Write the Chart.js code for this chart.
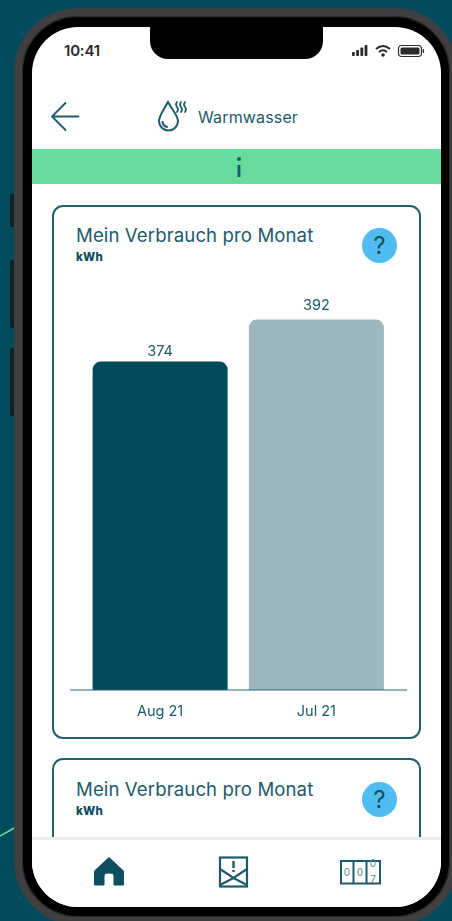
<!DOCTYPE html>
<html lang="de">
<head>
<meta charset="utf-8">
<title>Warmwasser</title>
<script src="https://cdn.jsdelivr.net/npm/chart.js@4"></script>
<style>
  html, body { margin: 0; padding: 0; width: 452px; height: 921px; overflow: hidden; background: #004c5c; font-family: Inter, Roboto, sans-serif; }
  .abs { position: absolute; }
  #streak { left: 0; top: 0; }
  .side { position: absolute; left: 10px; width: 4px; background: #0d2229; border-radius: 2px 0 0 2px; }
  #frame { left: 14px; top: 8px; width: 444px; height: 917px; border-radius: 64px; box-sizing: border-box; border: 8px solid #3f3f41; background: #000; box-shadow: inset 0 0 0 1px #2a2a2b; }
  #screen { left: 32px; top: 27px; width: 409px; height: 880px; border-radius: 46px; background: #fff; overflow: hidden; }
  #notch { left: 150px; top: 27px; width: 173px; height: 32px; background: #000; border-radius: 0 0 18px 18px; }
  #clock { left: 64px; top: 42px; font-size: 15px; font-weight: 600; color: #2b2b2b; line-height: 18px; letter-spacing: -.2px; }
  #pagetitle { left: 198px; top: 107px; font-size: 16px; color: #1d5a6b; line-height: 20px; letter-spacing: .15px; }
  #banner { left: 32px; top: 149px; width: 409px; height: 35px; background: #66dd9f; }
  .card { position: absolute; left: 52px; width: 369px; box-sizing: border-box; border: 2px solid #23606f; border-radius: 11px; background: #fff; }
  .cardtitle { position: absolute; left: 76px; font-size: 18.6px; color: #1d5a6b; line-height: 22px; letter-spacing: .1px; white-space: nowrap; }
  .unit { position: absolute; left: 76px; font-size: 11.5px; font-weight: 800; color: #0b4b5b; line-height: 14px; letter-spacing: .3px; }
  .help { position: absolute; left: 362px; width: 35px; height: 35px; border-radius: 50%; background: #4fbdf2; color: #17505f; font-size: 24px; line-height: 35px; text-align: center; }
  #chartbox { left: 60px; top: 280px; width: 360px; height: 450px; }
  #nav { left: 32px; top: 837px; width: 409px; height: 70px; background: #fff; border-top: 3px solid #e8eff1; box-sizing: border-box; border-radius: 0 0 46px 46px; }
</style>
</head>
<body>
<svg id="streak" class="abs" width="20" height="921"><line x1="0" y1="836" x2="16" y2="827" stroke="#66dd9f" stroke-width="1.5"/></svg>
<div class="side" style="top:194px;height:33px"></div>
<div class="side" style="top:260px;height:68px"></div>
<div class="side" style="top:348px;height:68px"></div>
<div id="frame" class="abs"></div>
<div id="screen" class="abs"></div>
<div id="notch" class="abs"></div>

<div id="clock" class="abs">10:41</div>
<svg class="abs" style="left:350px;top:42px" width="78" height="18" fill="#2b2b2b">
  <rect x="2" y="10" width="2.8" height="4" rx=".8"/><rect x="6.2" y="8" width="2.8" height="6" rx=".8"/><rect x="10.4" y="5.5" width="2.8" height="8.5" rx=".8"/><rect x="14.6" y="3" width="2.8" height="11" rx=".8"/>
  <path d="M26 7 Q33 1 40 7" fill="none" stroke="#2b2b2b" stroke-width="2.1"/><path d="M29 10 Q33 6.5 37 10" fill="none" stroke="#2b2b2b" stroke-width="2.1"/><circle cx="33" cy="13" r="1.8"/>
  <rect x="48.5" y="3.5" width="23" height="11" rx="3.2" fill="none" stroke="#2b2b2b" stroke-width="1.2"/><rect x="50.5" y="5.5" width="19" height="7" rx="1.6"/><rect x="72.7" y="7" width="1.4" height="4" rx=".7"/>
</svg>

<svg class="abs" style="left:50px;top:100px" width="32" height="34" fill="none" stroke="#1d5a6b" stroke-width="1.8" stroke-linecap="round" stroke-linejoin="round">
  <path d="M2 16.5 H28.5 M15.5 3 L2 16.5 L15.5 30"/>
</svg>
<svg class="abs" style="left:154px;top:98px" width="36" height="36" fill="none" stroke="#1d5a6b" stroke-width="2" stroke-linecap="round">
  <path d="M14 4 C9 13 5 18 5 23 a9.5 9.5 0 0 0 19 0 C24 18 19 13 14 4 Z"/>
  <path d="M8.5 24 a6 6 0 0 0 4.5 5"/>
  <path d="M23 4 q-2 2.5 0 5 q2 2.5 0 5 M27 4 q-2 2.5 0 5 q2 2.5 0 5 M31 4 q-2 2.5 0 5 q2 2.5 0 5" stroke-width="1.7"/>
</svg>
<div id="pagetitle" class="abs">Warmwasser</div>

<div id="banner" class="abs"></div>
<svg class="abs" style="left:232px;top:155px" width="14" height="24" fill="#1d5a6b"><circle cx="7" cy="4" r="2"/><rect x="5.6" y="10" width="2.8" height="12"/></svg>

<div class="card" style="top:205px;height:534px"></div>
<div class="cardtitle" style="top:224px">Mein Verbrauch pro Monat</div>
<div class="unit" style="top:250px">kWh</div>
<div class="help" style="top:228px">?</div>

<div class="abs" id="chartbox"><canvas id="usage"></canvas></div>

<div class="card" style="top:758px;height:110px"></div>
<div class="cardtitle" style="top:778px">Mein Verbrauch pro Monat</div>
<div class="unit" style="top:804px">kWh</div>
<div class="help" style="top:782px">?</div>

<div id="nav" class="abs"></div>
<svg class="abs" style="left:92px;top:856px" width="36" height="32" fill="#0b4f61">
  <path d="M2.5 29 V15 L17 1.5 L31.5 15 V29 H22 V20 Q22 17 17 17 Q12 17 12 20 V29 Z" stroke="#0b4f61" stroke-width="1" stroke-linejoin="round"/>
</svg>
<svg class="abs" style="left:217px;top:855px" width="32" height="34" fill="none" stroke="#1d5a6b" stroke-width="2.2">
  <rect x="3" y="2.5" width="27" height="29"/><path d="M3 14 L16.5 23 L30 14 M3 30 L16.5 23 L30 30"/>
  <path d="M16.5 6 V13" stroke-width="2.4"/><circle cx="16.5" cy="16" r="1.3" fill="#1d5a6b" stroke="none"/>
</svg>
<svg class="abs" style="left:339px;top:859px" width="44" height="28" fill="none" stroke="#1d5a6b" stroke-width="2">
  <rect x="2" y="2" width="39" height="22.5"/><path d="M14.5 2 V24.5 M27.5 2 V24.5"/>
  <g font-family="Inter, sans-serif" font-size="10" fill="#5e8a96" stroke="none" text-anchor="middle">
    <text x="8" y="17">0</text><text x="21" y="17">0</text><text x="34" y="8">0</text><text x="34" y="24">7</text>
  </g>
</svg>

<script>
// Monthly hot-water consumption in kWh
const months = ['Aug 21', 'Jul 21'];
const consumption = [374, 392];
const barColors = ['#004c5c', '#9bb8c0'];
const axisMin = 233;
const axisMax = 409;

const LABEL_COLOR = '#1d5a6b';
const FONT = 'Inter, Roboto, sans-serif';

// Writes each bar's value above it and extends the baseline past the bars
const barAnnotations = {
  id: 'barAnnotations',
  afterDatasetsDraw(chart) {
    const { ctx, chartArea, scales } = chart;
    const baseY = scales.y.getPixelForValue(axisMin);
    const lift = [6, 10];
    ctx.save();
    ctx.strokeStyle = '#2f6676';
    ctx.lineWidth = 1.2;
    ctx.beginPath();
    ctx.moveTo(chartArea.left - 12, baseY);
    ctx.lineTo(chartArea.right + 12.5, baseY);
    ctx.stroke();

    ctx.fillStyle = LABEL_COLOR;
    ctx.font = '14.5px ' + FONT;
    ctx.textAlign = 'center';
    ctx.textBaseline = 'alphabetic';
    chart.getDatasetMeta(0).data.forEach((bar, i) => {
      ctx.fillText(String(consumption[i]), bar.x, bar.y - lift[i]);
    });
    ctx.restore();
  }
};

new Chart(document.getElementById('usage'), {
  type: 'bar',
  data: {
    labels: months,
    datasets: [{
      data: consumption,
      backgroundColor: barColors,
      borderWidth: 0,
      borderRadius: { topLeft: 8, topRight: 8, bottomLeft: 0, bottomRight: 0 },
      borderSkipped: false,
      categoryPercentage: 0.864,
      barPercentage: 1
    }]
  },
  options: {
    responsive: true,
    maintainAspectRatio: false,
    animation: false,
    layout: { padding: { left: 22, right: 25.5, top: 0, bottom: 0 } },
    plugins: { legend: { display: false }, tooltip: { enabled: false } },
    scales: {
      y: { display: false, min: axisMin, max: axisMax },
      x: {
        grid: { display: false },
        border: { display: false },
        ticks: { color: LABEL_COLOR, font: { family: FONT, size: 14.5 }, padding: 5, maxRotation: 0 },
        afterFit(scale) { scale.height = 40; }
      }
    }
  },
  plugins: [barAnnotations]
});
</script>
</body>
</html>
